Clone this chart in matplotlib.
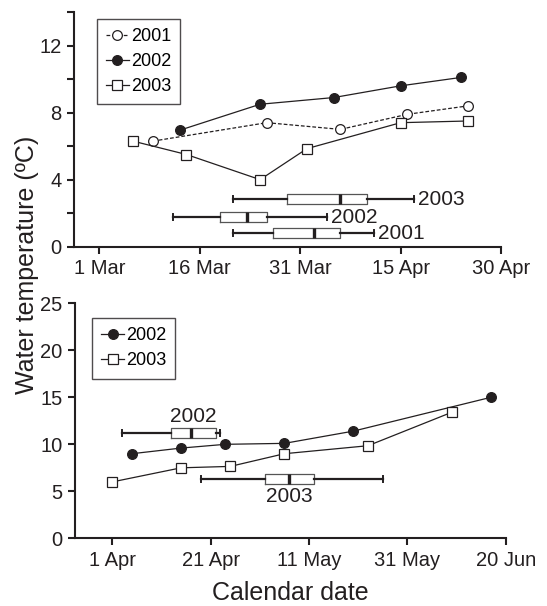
import matplotlib
matplotlib.use("Agg")
import matplotlib.pyplot as plt
import matplotlib.dates as mdates
import datetime as dt

plt.rcParams["font.family"] = ["Liberation Sans", "DejaVu Sans"]

# ---- data: calendar dates (month-day), values in deg C ----
# top panel (spring)
top_2001_dates = ["03-09", "03-26", "04-06", "04-16", "04-25"]
top_2001_temp = [6.3, 7.4, 7.0, 7.9, 8.4]
top_2002_dates = ["03-13", "03-25", "04-05", "04-15", "04-24"]
top_2002_temp = [6.95, 8.5, 8.9, 9.6, 10.1]
top_2003_dates = ["03-06", "03-14", "03-25", "04-01", "04-15", "04-25"]
top_2003_temp = [6.3, 5.5, 4.0, 5.85, 7.4, 7.5]

# top panel box plots: (whislo, q1, med, q3, whishi), y position
top_box_years = ["2003", "2002", "2001"]
top_box_stats = [("03-21", "03-29", "04-06", "04-10", "04-17"),
                 ("03-12", "03-19", "03-23", "03-26", "04-04"),
                 ("03-21", "03-27", "04-02", "04-06", "04-11")]
top_box_ypos = [2.83, 1.76, 0.79]

# bottom panel
bot_2002_dates = ["04-05", "04-15", "04-24", "05-06", "05-20", "06-17"]
bot_2002_temp = [9.0, 9.6, 10.0, 10.1, 11.4, 15.0]
bot_2003_dates = ["04-01", "04-15", "04-25", "05-06", "05-23", "06-09"]
bot_2003_temp = [6.0, 7.5, 7.65, 9.0, 9.85, 13.4]

bot_box_years = ["2002", "2003"]
bot_box_stats = [("04-03", "04-13", "04-17", "04-22", "04-23"),
                 ("04-19", "05-02", "05-07", "05-12", "05-26")]
bot_box_ypos = [11.2, 6.35]


def md(s):
    # all years on a common calendar
    m, d = s.split("-")
    return mdates.date2num(dt.date(2001, int(m), int(d)))


def mds(lst):
    return [md(s) for s in lst]


INK = "#231f20"
fig = plt.figure(figsize=(5.47, 6.06), dpi=100)
ax1 = fig.add_axes([0.1353, 0.593, 0.7807, 0.387])
ax2 = fig.add_axes([0.137, 0.1117, 0.7875, 0.3878])

line_kw = dict(color=INK, lw=0.9, markeredgecolor=INK, markeredgewidth=0.9)

ax1.plot(mds(top_2001_dates), top_2001_temp, ls=(0, (3, 1.6)), marker="o", ms=7,
         markerfacecolor="white", label="2001", **line_kw)
ax1.plot(mds(top_2002_dates), top_2002_temp, ls="-", marker="o", ms=7,
         markerfacecolor=INK, label="2002", **line_kw)
ax1.plot(mds(top_2003_dates), top_2003_temp, ls="-", marker="s", ms=6.5,
         markerfacecolor="white", label="2003", **line_kw)

ax2.plot(mds(bot_2002_dates), bot_2002_temp, ls="-", marker="o", ms=7,
         markerfacecolor=INK, label="2002", **line_kw)
ax2.plot(mds(bot_2003_dates), bot_2003_temp, ls="-", marker="s", ms=6.5,
         markerfacecolor="white", label="2003", **line_kw)


def boxes(ax, stats, ypos, width, cap):
    st = []
    for s in stats:
        lo, q1, med, q3, hi = mds(s)
        st.append(dict(whislo=lo, q1=q1, med=med, q3=q3, whishi=hi, fliers=[]))
    ax.bxp(st, positions=ypos, widths=width, capwidths=cap,
           orientation="horizontal", manage_ticks=False, showfliers=False,
           boxprops=dict(color="#555555", lw=0.9),
           whiskerprops=dict(color=INK, lw=1.6),
           capprops=dict(color=INK, lw=1.4),
           medianprops=dict(color=INK, lw=2.4))
    return st


st1 = boxes(ax1, top_box_stats, top_box_ypos, 0.6, 0.36)
for yr, s, y in zip(top_box_years, st1, top_box_ypos):
    ax1.annotate(yr, (s["whishi"], y), xytext=(3, 0), textcoords="offset points",
                 ha="left", va="center", fontsize=15, color=INK)

st2 = boxes(ax2, bot_box_stats, bot_box_ypos, 1.06, 0.64)
s, y = st2[0], bot_box_ypos[0]
ax2.annotate(bot_box_years[0], ((s["q1"] + s["q3"]) / 2, y), xytext=(0, 5),
             textcoords="offset points", ha="center", va="bottom", fontsize=15, color=INK)
s, y = st2[1], bot_box_ypos[1]
ax2.annotate(bot_box_years[1], ((s["q1"] + s["q3"]) / 2, y), xytext=(0, -6),
             textcoords="offset points", ha="center", va="top", fontsize=15, color=INK)

# axes styling
ax1.set_xlim(md("03-01") - 3.8, md("04-30"))
ax1.set_ylim(0, 14)
ax1.set_xticks(mds(["03-01", "03-16", "03-31", "04-15", "04-30"]))
ax1.set_xticklabels(["1 Mar", "16 Mar", "31 Mar", "15 Apr", "30 Apr"])
ax1.set_yticks(range(0, 15, 2))
ax1.set_yticklabels(["0", "", "4", "", "8", "", "12", ""])

ax2.set_xlim(md("04-01") - 7.6, md("06-20"))
ax2.set_ylim(0, 25)
ax2.set_xticks(mds(["04-01", "04-21", "05-11", "05-31", "06-20"]))
ax2.set_xticklabels(["1 Apr", "21 Apr", "11 May", "31 May", "20 Jun"])
ax2.set_yticks(range(0, 26, 5))

for ax in (ax1, ax2):
    for sp in ("top", "right"):
        ax.spines[sp].set_visible(False)
    for sp in ("left", "bottom"):
        ax.spines[sp].set_linewidth(1.5)
        ax.spines[sp].set_color(INK)
    ax.tick_params(direction="out", length=5, width=1.5, colors=INK,
                   labelsize=14.5, pad=4)

for ax, anchor in ((ax1, (0.053, 0.971)), (ax2, (0.039, 0.936))):
    lg = ax.legend(loc="upper left", bbox_to_anchor=anchor, frameon=True,
                   fancybox=False, fontsize=13, handlelength=1.3,
                   handletextpad=0.1, labelspacing=0.45, borderpad=0.5,
                   borderaxespad=0)
    lg.get_frame().set_edgecolor(INK)
    lg.get_frame().set_linewidth(1.0)

ax2.set_xlabel("Calendar date", fontsize=18, color=INK, labelpad=8)
fig.text(0.05, 1 - 265 / 606, "Water temperature (ºC)", rotation=90,
         ha="center", va="center", fontsize=18, color=INK)

fig.savefig("out.png", dpi=100)
